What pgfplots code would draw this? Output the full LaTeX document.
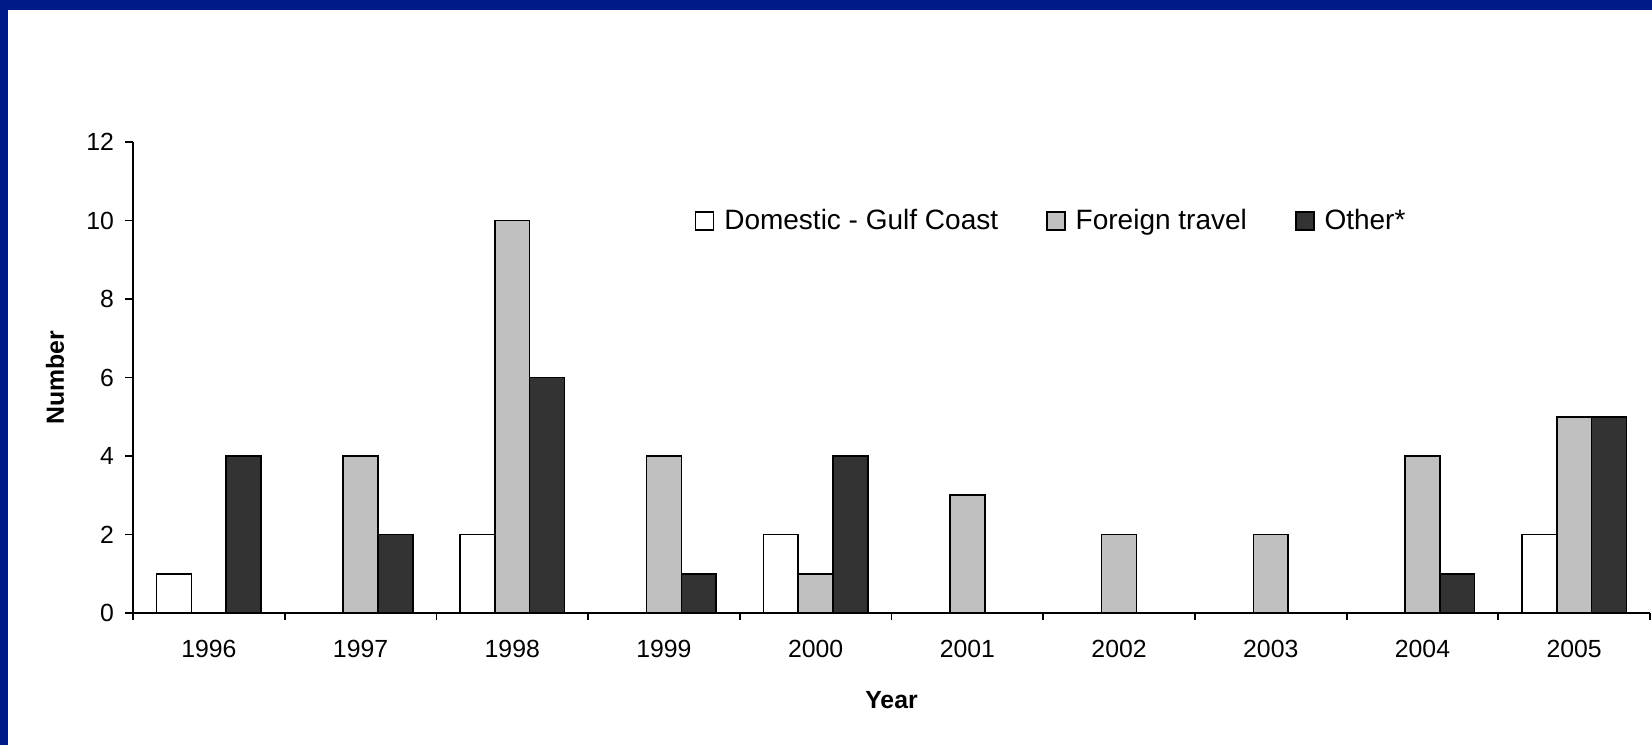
\documentclass[border=0pt]{standalone}
\usepackage{pgfplots}
\pgfplotsset{compat=1.18}
\usepackage{fontspec}
\setmainfont{Liberation Sans}
\definecolor{frameblue}{RGB}{0,26,135}
\definecolor{lgray}{RGB}{192,192,192}
\definecolor{dgray}{RGB}{51,51,51}
\begin{document}
\begin{tikzpicture}
\useasboundingbox (0,0) rectangle (826pt,372.5pt);
\fill[frameblue] (0,0) rectangle (826pt,372.5pt);
\fill[white] (4pt,0) rectangle (826pt,367.5pt);
\begin{axis}[
  at={(66.5pt,66pt)}, anchor=south west,
  scale only axis, width=758.5pt, height=235.5pt,
  xmin=-0.5, xmax=9.5, ymin=0, ymax=12,
  axis x line=bottom, axis y line=left,
  axis line style={-, line width=0.9pt},
  ybar=0pt, bar width=17.4pt,
  legend image code/.code={\draw[#1,/tikz/.cd,line width=0.8pt] (0pt,-4.5pt) rectangle (9pt,4.5pt);},
  xtick={0,...,9},
  xticklabels={1996,1997,1998,1999,2000,2001,2002,2003,2004,2005},
  major x tick style={draw=none},
  minor xtick={-0.5,0.5,...,9.5},
  minor tick length=3.5pt,
  ytick={0,2,...,12},
  major tick length=4pt,
  tick align=outside, tick pos=left,
  tick style={black, line width=0.9pt},
  /pgf/number format/assume math mode=true,
  ticklabel style={font=\fontsize{12.4}{14}\selectfont},
  xticklabel style={anchor=center, yshift=-14pt},
  yticklabel style={anchor=east, xshift=-2pt},
  xlabel={Year}, ylabel={Number},
  every axis x label/.style={at={(axis description cs:0.5,0)}, anchor=center, yshift=-43.5pt, font=\fontsize{12.4}{14}\selectfont\bfseries},
  every axis y label/.style={at={(axis description cs:0,0.5)}, xshift=-39pt, rotate=90, anchor=center, font=\fontsize{12.4}{14}\selectfont\bfseries},
  legend style={at={(axis description cs:0.37,0.832)}, anchor=west, draw=none, fill=none,
    font=\fontsize{14}{16}\selectfont, legend columns=-1, inner sep=0pt,
    /tikz/every odd column/.append style={column sep=3pt},
    /tikz/every even column/.append style={column sep=22pt}},
  legend cell align=left,
]
\addplot[draw=black, line width=0.8pt, fill=white] coordinates {(0,1) (2,2) (4,2) (9,2)};
\addplot[draw=black, line width=0.8pt, fill=lgray] coordinates {(1,4) (2,10) (3,4) (4,1) (5,3) (6,2) (7,2) (8,4) (9,5)};
\addplot[draw=black, line width=0.8pt, fill=dgray] coordinates {(0,4) (1,2) (2,6) (3,1) (4,4) (8,1) (9,5)};
\legend{Domestic - Gulf Coast, Foreign travel, Other*}
\end{axis}
\end{tikzpicture}
\end{document}
